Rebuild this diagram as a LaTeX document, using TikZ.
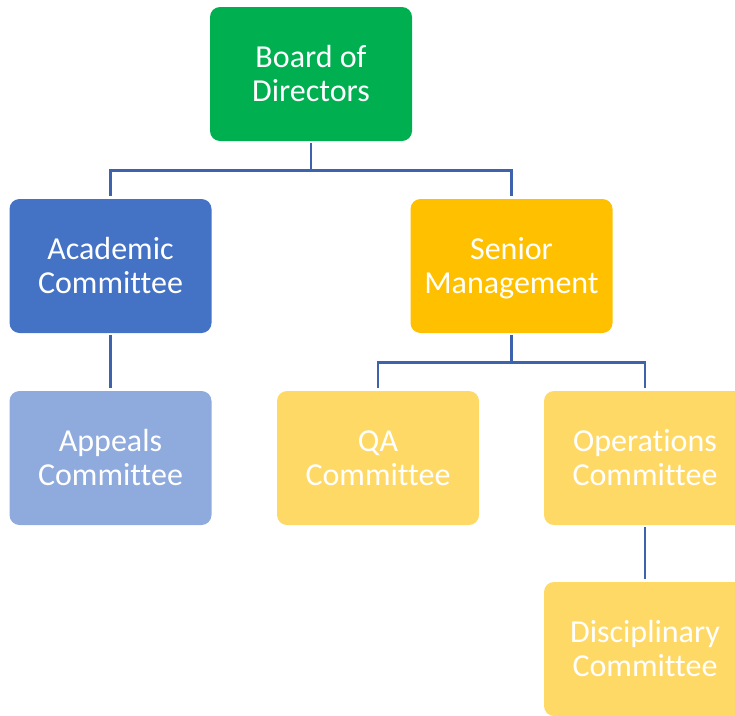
\documentclass[tikz,border=0pt]{standalone}
\usepackage{fontspec}
\setmainfont{Carlito}[Ligatures=NoCommon]
\usetikzlibrary{positioning}

\definecolor{boardgreen}{HTML}{00B050}
\definecolor{acadblue}{HTML}{4472C4}
\definecolor{mgmtorange}{HTML}{FFC000}
\definecolor{lightblue}{HTML}{8FAADC}
\definecolor{lightyellow}{HTML}{FFD966}
\definecolor{linkblue}{HTML}{3F62AD}

% two centred lines with fixed height and depth
\newcommand{\twolines}[2]{\rule{0pt}{28pt}#1\\#2\rule[-7pt]{0pt}{7pt}}

\tikzset{
	unit/.style={rectangle, rounded corners=10pt, minimum width=202pt, minimum height=134pt,
		inner sep=0pt, align=center, text=white, font=\fontsize{32}{34.5}\selectfont},
	link/.style={draw=linkblue, line width=2.6pt, shorten <=2pt, shorten >=3pt}
}

\begin{document}
\begin{tikzpicture}[node distance=192pt and 200.5pt, on grid]
		\clip (0,0) rectangle (735pt,-715pt);
		\useasboundingbox (0,0) rectangle (735pt,-715pt);
		
		\node[unit, fill=boardgreen] (board) at (311pt,-74pt) {\twolines{Board of}{Directors}};
		\node[unit, fill=acadblue, below left = of board] (academic) {\twolines{Academic}{Committee}};
		\node[unit, fill=mgmtorange, below right = of board] (senior) {\twolines{Senior}{Management}};
		\node[unit, fill=lightblue, below = of academic] (appeals) {\twolines{Appeals}{Committee}};
		
		\node[unit, fill=lightyellow, below left = 192pt and 133.5pt of senior] (qa) {\twolines{QA}{Committee}};
		\node[unit, fill=lightyellow, below right = 192pt and 133.5pt of senior] (operations) {\twolines{Operations}{Committee}};
		\node[unit, fill=lightyellow, below = 191pt of operations] (disciplinary) {\twolines{Disciplinary}{Committee}};
		
		\draw[link] (board.south) -- ++(0,-29pt) -| (academic.north);
		\draw[link] (board.south) -- ++(0,-29pt) -| (senior.north);
		\draw[link] (academic) -- (appeals);
		\draw[link] (senior.south) -- ++(0,-29pt) -| (qa.north);
		\draw[link] (senior.south) -- ++(0,-29pt) -| (operations.north);
		\draw[link] (operations) -- (disciplinary);
		\end{tikzpicture}
\end{document}
